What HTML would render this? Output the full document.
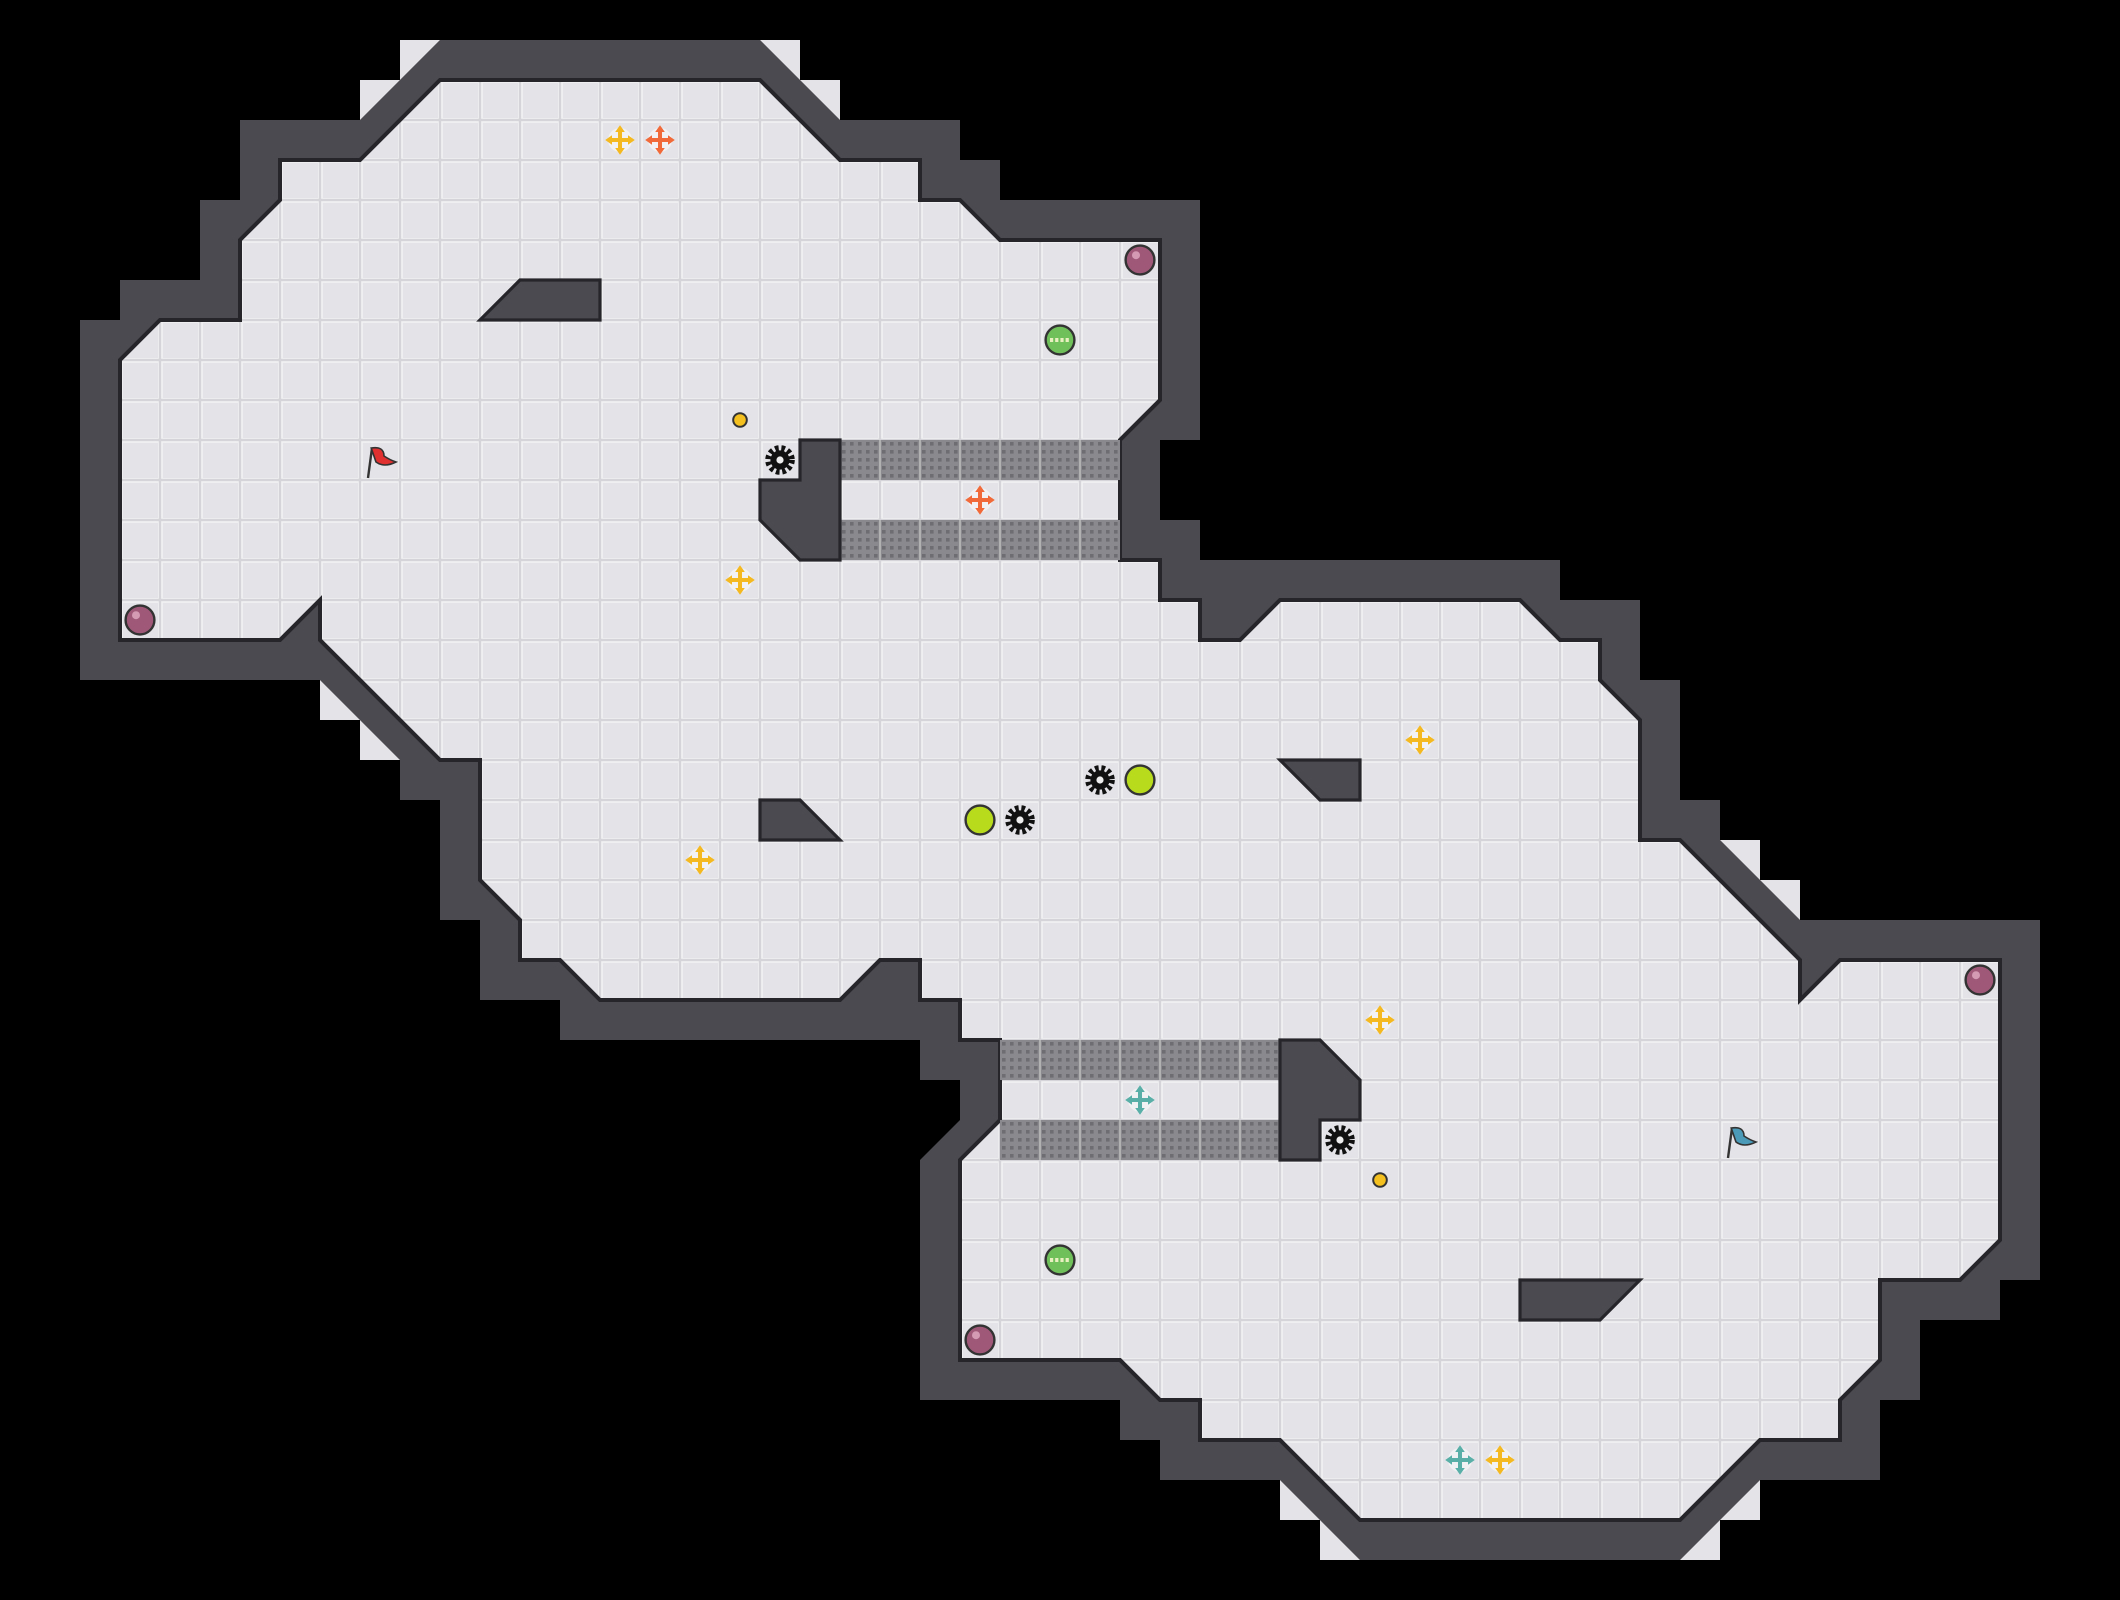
<!DOCTYPE html>
<html><head><meta charset="utf-8"><style>
html,body{margin:0;padding:0;background:#000;}
svg{display:block;}
</style></head><body>
<svg width="2120" height="1600" viewBox="0 0 53 40" xmlns="http://www.w3.org/2000/svg">
<defs>
<pattern id="grid" x="0" y="0" width="1" height="1" patternUnits="userSpaceOnUse">
<rect width="1" height="1" fill="#d4d4d9"/>
<rect x="0.03" y="0.03" width="0.94" height="0.94" fill="#f2f2f4"/>
<rect x="0.07" y="0.07" width="0.88" height="0.88" fill="#e4e4e8"/>
</pattern>
<pattern id="grate" x="0" y="0" width="0.2" height="0.2" patternUnits="userSpaceOnUse">
<rect width="0.2" height="0.2" fill="#8a8a8e"/>
<rect x="0.05" y="0.05" width="0.09" height="0.09" fill="#6e6e72"/>
</pattern>
<g id="cross">
<circle r="0.3" fill="#fff" opacity="0.5"/>
<path d="M-0.05,-0.22 h0.1 v0.17 h0.17 v0.1 h-0.17 v0.17 h-0.1 v-0.17 h-0.17 v-0.1 h0.17z"/>
<path d="M0,-0.37 L0.12,-0.2 L-0.12,-0.2Z M0,0.37 L0.12,0.2 L-0.12,0.2Z M-0.37,0 L-0.2,0.12 L-0.2,-0.12Z M0.37,0 L0.2,0.12 L0.2,-0.12Z"/>
</g>
<g id="spike">
<circle r="0.3" fill="none" stroke="#111" stroke-width="0.14" stroke-dasharray="0.09 0.07"/>
<circle r="0.24" fill="#111"/>
<circle r="0.09" fill="#eee"/>
</g>
<g id="bomb">
<circle r="0.36" fill="#a05878" stroke="#333" stroke-width="0.06"/>
<circle cx="-0.1" cy="-0.12" r="0.1" fill="#d49ab4"/>
</g>
<g id="green">
<circle r="0.36" fill="#6fbf5a" stroke="#333" stroke-width="0.06"/>
<path d="M-0.25,0 h0.5" stroke="#e8f0c0" stroke-width="0.1" stroke-dasharray="0.08 0.05"/>
</g>
<g id="lime">
<circle r="0.36" fill="#b8dc1c" stroke="#333" stroke-width="0.06"/>
</g>
</defs>
<rect width="53" height="40" fill="#000"/>
<polygon points="11,1 19,1 21,3 24,3 24,4 25,4 25,5 30,5 30,11 29,11 29,13 30,13 30,14 39,14 39,15 41,15 41,17 42,17 42,20 43,20 43,21 45,23 51,23 51,32 50,32 50,33 48,33 48,35 47,35 47,37 44,37 42,39 34,39 32,37 29,37 29,36 28,36 28,35 23,35 23,29 24,28 24,27 23,27 23,26 14,26 14,25 12,25 12,23 11,23 11,20 10,20 10,19 8,17 2,17 2,8 3,8 3,7 5,7 5,5 6,5 6,3 9,3" fill="#4a4a50"/>
<g fill="#e4e4e8">
<polygon points="10,1 11,1 10,2"/><polygon points="9,2 10,2 9,3"/>
<polygon points="19,1 20,1 20,2"/><polygon points="20,2 21,2 21,3"/>
<polygon points="43,21 44,21 44,22"/><polygon points="44,22 45,22 45,23"/>
<polygon points="44,37 44,38 43,38"/><polygon points="43,38 43,39 42,39"/>
<polygon points="32,37 32,38 33,38"/><polygon points="33,38 33,39 34,39"/>
<polygon points="8,17 8,18 9,18"/><polygon points="9,18 9,19 10,19"/>
</g>
<path d="M11,2 L19,2 L21,4 L23,4 L23,5 L24,5 L25,6 L29,6 L29,10 L28,11 L28,14 L29,14 L29,15 L30,15 L30,16 L31,16 L32,15 L38,15 L39,16 L40,16 L40,17 L41,18 L41,21 L42,21 L45,24 L45,25 L46,24 L50,24 L50,31 L49,32 L47,32 L47,34 L46,35 L46,36 L44,36 L42,38 L34,38 L32,36 L30,36 L30,35 L29,35 L28,34 L24,34 L24,29 L25,28 L25,26 L24,26 L24,25 L23,25 L23,24 L22,24 L21,25 L15,25 L14,24 L13,24 L13,23 L12,22 L12,19 L11,19 L8,16 L8,15 L7,16 L3,16 L3,9 L4,8 L6,8 L6,6 L7,5 L7,4 L9,4 Z" fill="url(#grid)" stroke="#26262a" stroke-width="0.1"/>
<rect x="21" y="11" width="7" height="1" fill="url(#grate)"/>
<rect x="21" y="13" width="7" height="1" fill="url(#grate)"/>
<rect x="25" y="26" width="7" height="1" fill="url(#grate)"/>
<rect x="25" y="28" width="7" height="1" fill="url(#grate)"/>
<g stroke="#bbb" stroke-width="0.04" fill="none">
<path d="M22,11v1M23,11v1M24,11v1M25,11v1M26,11v1M27,11v1M22,13v1M23,13v1M24,13v1M25,13v1M26,13v1M27,13v1"/>
<path d="M26,26v1M27,26v1M28,26v1M29,26v1M30,26v1M31,26v1M26,28v1M27,28v1M28,28v1M29,28v1M30,28v1M31,28v1"/>
</g>
<g fill="#4a4a50" stroke="#26262a" stroke-width="0.08">
<polygon points="20,11 21,11 21,14 20,14 19,13 19,12 20,12"/>
<polygon points="32,26 33,26 34,27 34,28 33,28 33,29 32,29"/>
<polygon points="12,8 13,7 15,7 15,8"/>
<polygon points="19,20 20,20 21,21 19,21"/>
<polygon points="32,19 34,19 34,20 33,20"/>
<polygon points="38,32 41,32 40,33 38,33"/>
</g>
<g fill="#f4b820">
<use href="#cross" x="15.5" y="3.5"/>
<use href="#cross" x="18.5" y="14.5"/>
<use href="#cross" x="35.5" y="18.5"/>
<use href="#cross" x="17.5" y="21.5"/>
<use href="#cross" x="34.5" y="25.5"/>
<use href="#cross" x="37.5" y="36.5"/>
</g>
<g fill="#f06a3a">
<use href="#cross" x="16.5" y="3.5"/>
<use href="#cross" x="24.5" y="12.5"/>
</g>
<g fill="#5ab0a8">
<use href="#cross" x="28.5" y="27.5"/>
<use href="#cross" x="36.5" y="36.5"/>
</g>
<use href="#bomb" x="28.5" y="6.5"/>
<use href="#bomb" x="3.5" y="15.5"/>
<use href="#bomb" x="49.5" y="24.5"/>
<use href="#bomb" x="24.5" y="33.5"/>
<use href="#green" x="26.5" y="8.5"/>
<use href="#green" x="26.5" y="31.5"/>
<use href="#lime" x="28.5" y="19.5"/>
<use href="#lime" x="24.5" y="20.5"/>
<circle cx="18.5" cy="10.5" r="0.17" fill="#f4c020" stroke="#333" stroke-width="0.05"/>
<circle cx="34.5" cy="29.5" r="0.17" fill="#f4c020" stroke="#333" stroke-width="0.05"/>
<use href="#spike" x="19.5" y="11.5"/>
<use href="#spike" x="27.5" y="19.5"/>
<use href="#spike" x="25.5" y="20.5"/>
<use href="#spike" x="33.5" y="28.5"/>
<g transform="translate(9.5,11.5)">
<path d="M-0.3,0.45 L-0.2,-0.3" stroke="#333" stroke-width="0.06"/>
<path d="M-0.22,-0.3 Q0.1,-0.35 0.1,-0.1 Q0.25,0 0.4,0.05 Q0.1,0.2 -0.1,0.05 Z" fill="#e03030" stroke="#333" stroke-width="0.04"/>
</g>
<g transform="translate(43.5,28.5)">
<path d="M-0.3,0.45 L-0.2,-0.3" stroke="#333" stroke-width="0.06"/>
<path d="M-0.22,-0.3 Q0.1,-0.35 0.1,-0.1 Q0.25,0 0.4,0.05 Q0.1,0.2 -0.1,0.05 Z" fill="#4a9ab8" stroke="#333" stroke-width="0.04"/>
</g>
</svg>
</body></html>
